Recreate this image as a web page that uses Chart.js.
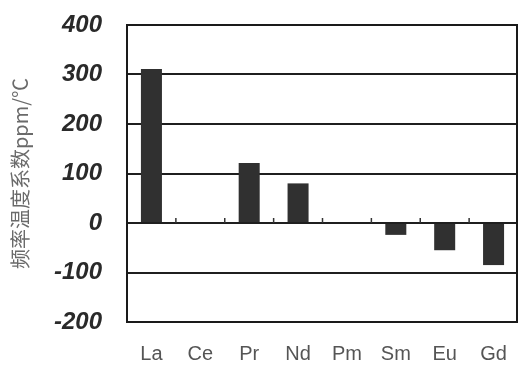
<!DOCTYPE html>
<html lang="zh">
<head>
    <meta charset="UTF-8">
    <title>频率温度系数</title>
    <script src="https://cdn.jsdelivr.net/npm/chart.js@4.4.1/dist/chart.umd.min.js"></script>
    <style>
        body {
            margin: 0;
            background-color: #ffffff;
        }
        #wrap {
            width: 519px;
            height: 366px;
        }
    </style>
</head>
<body>
<div id="wrap">
    <canvas id="chart"></canvas>
</div>
<script>
    // Data
    var elements = ['La', 'Ce', 'Pr', 'Nd', 'Pm', 'Sm', 'Eu', 'Gd'];
    var coefValues = [311, 0, 121, 80, 0, -24, -55, -85];
    var yTicks = [-200, -100, 0, 100, 200, 300, 400];
    var yTitle = '频率温度系数ppm/℃';

    // Frame around the plot and little ticks on the zero line
    var framePlugin = {
        id: 'frame',
        afterDraw: function(chart) {
            var ctx = chart.ctx;
            var area = chart.chartArea;
            var x = chart.scales.x;
            var y = chart.scales.y;
            ctx.save();
            ctx.strokeStyle = '#1a1a1a';
            ctx.lineWidth = 2;
            ctx.strokeRect(area.left, area.top, area.right - area.left - 1, area.bottom - area.top);
            var zero = y.getPixelForValue(0);
            ctx.lineWidth = 1.5;
            ctx.strokeStyle = '#333';
            for (var i = 0; i < elements.length - 1; i++) {
                var bx = (x.getPixelForValue(i) + x.getPixelForValue(i + 1)) / 2;
                ctx.beginPath();
                ctx.moveTo(bx, zero);
                ctx.lineTo(bx, zero - 5);
                ctx.stroke();
            }
            ctx.restore();
        }
    };

    var ctx = document.getElementById('chart').getContext('2d');
    var chart = new Chart(ctx, {
        type: 'bar',
        data: {
            labels: elements,
            datasets: [{
                data: coefValues,
                backgroundColor: '#303030',
                borderWidth: 0,
                categoryPercentage: 1,
                barPercentage: 0.43
            }]
        },
        options: {
            responsive: true,
            maintainAspectRatio: false,
            animation: false,
            layout: {
                padding: { left: 8, right: 1, top: 25, bottom: 0 }
            },
            plugins: {
                legend: { display: false },
                tooltip: { enabled: false }
            },
            scales: {
                x: {
                    afterFit: function(axis) {
                        axis.height = 44;
                        axis.paddingLeft = 0;
                        axis.paddingRight = 0;
                    },
                    grid: { display: false, drawTicks: false },
                    border: { display: false },
                    ticks: {
                        color: '#555',
                        padding: 20,
                        font: { family: 'Liberation Sans', size: 20 }
                    }
                },
                y: {
                    min: -200,
                    max: 400,
                    afterBuildTicks: function(axis) {
                        axis.ticks = yTicks.map(function(v) { return { value: v }; });
                    },
                    afterFit: function(axis) {
                        axis.width = 119;
                        axis.paddingTop = 0;
                        axis.paddingBottom = 0;
                    },
                    grid: {
                        color: '#1f1f1f',
                        lineWidth: 2,
                        drawTicks: false
                    },
                    border: { display: false },
                    ticks: {
                        color: '#2a2a2a',
                        padding: 25,
                        font: { family: 'Liberation Sans', size: 24, weight: 'bold', style: 'italic' }
                    },
                    title: {
                        display: true,
                        text: yTitle,
                        color: '#6a6a6a',
                        padding: { top: 0, bottom: 0 },
                        font: { family: 'Noto Sans CJK SC', size: 20 }
                    }
                }
            }
        },
        plugins: [framePlugin]
    });
</script>
</body>
</html>
